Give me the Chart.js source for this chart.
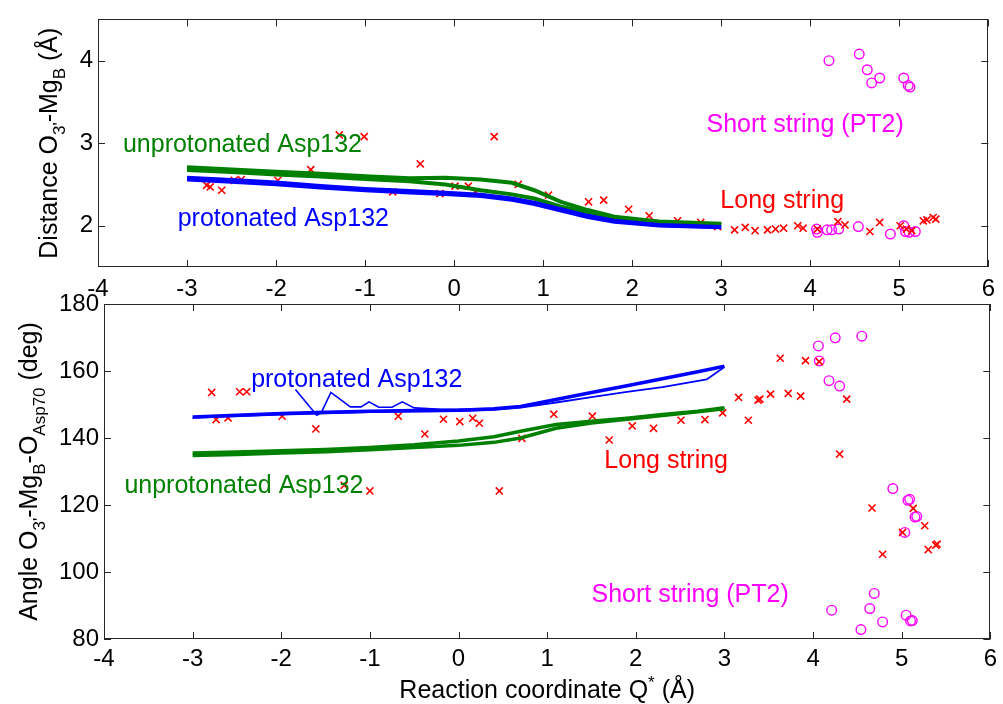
<!DOCTYPE html>
<html>
<head>
<meta charset="utf-8">
<script src="https://cdn.jsdelivr.net/npm/chart.js@4.4.1/dist/chart.umd.min.js"></script>
<style>
body { margin: 0; background: #fff; width: 1003px; height: 704px; position: relative; overflow: hidden; }
canvas { position: absolute; left: 0; }
#topChart { top: 0; }
#bottomChart { top: 280px; }
</style>
</head>
<body>
<canvas id="topChart" width="1003" height="300"></canvas>
<canvas id="bottomChart" width="1003" height="424"></canvas>
<script>
var FONT = '"Liberation Sans", Arial, Helvetica, sans-serif';
var GREEN = '#008000', BLUE = '#0000ff', RED = '#ff0000', MAGENTA = '#ff00ff';

// ---- top panel: distance O3'-MgB ----
var topCurveQ = [-3, -2.5, -2, -1.5, -1, -0.5, -0.1, 0.3, 0.65, 0.9, 1.2, 1.5, 1.8, 2.3, 3];
var topUnprotA = [2.71, 2.68, 2.655, 2.63, 2.60, 2.575, 2.58, 2.56, 2.52, 2.43, 2.29, 2.19, 2.11, 2.05, 2.025];
var topUnprotB = [2.675, 2.65, 2.62, 2.595, 2.565, 2.54, 2.50, 2.43, 2.38, 2.33, 2.23, 2.16, 2.09, 2.035, 2.015];
var topProtA = [2.58, 2.555, 2.525, 2.48, 2.445, 2.42, 2.40, 2.375, 2.33, 2.28, 2.20, 2.12, 2.06, 2.01, 1.985];
var topProtB = [2.55, 2.525, 2.495, 2.455, 2.42, 2.395, 2.375, 2.35, 2.305, 2.255, 2.175, 2.095, 2.04, 1.995, 1.972];

var topLongQ = [-2.78, -2.74, -2.61, -2.47, -2.39, -1.98, -1.61, -1.29, -1.01, -0.69, -0.38, -0.16, 0.01, 0.16, 0.24, 0.45, 0.72, 1.06, 1.51, 1.68, 1.96, 2.19, 2.51, 2.77, 2.96, 3.15, 3.27, 3.38, 3.52, 3.61, 3.70, 3.86, 3.92, 4.08, 4.31, 4.39, 4.67, 4.78, 5.01, 5.08, 5.14, 5.27, 5.31, 5.38, 5.41];
var topLongD = [2.49, 2.47, 2.43, 2.55, 2.56, 2.55, 2.68, 3.10, 3.08, 2.41, 2.75, 2.39, 2.48, 2.48, 2.41, 3.08, 2.50, 2.37, 2.29, 2.31, 2.20, 2.12, 2.06, 2.04, 1.99, 1.95, 1.98, 1.94, 1.95, 1.96, 1.97, 2.0, 1.97, 1.96, 2.05, 2.01, 1.93, 2.04, 2.0, 1.96, 1.94, 2.06, 2.07, 2.10, 2.08];

var topShortQ = [4.21, 4.55, 4.64, 4.69, 4.78, 5.05, 5.10, 5.12, 4.08, 4.07, 4.19, 4.24, 4.32, 4.54, 4.90, 5.05, 5.07, 5.11, 5.18];
var topShortD = [4.0, 4.08, 3.89, 3.73, 3.79, 3.79, 3.70, 3.68, 1.92, 1.96, 1.95, 1.95, 1.96, 1.99, 1.90, 2.0, 1.93, 1.92, 1.93];

// ---- bottom panel: angle O3'-MgB-OAsp70 ----
var botCurveQ = [-3, -2.5, -2, -1.5, -1, -0.5, 0, 0.4, 0.7, 1.1, 1.5, 1.9, 2.3, 2.7, 3];
var botUnprotA = [135.5, 135.8, 136.2, 136.6, 137.2, 138.0, 139.1, 140.4, 142.0, 144.0, 145.0, 145.9, 147.0, 148.0, 149.0];
var botUnprotB = [134.8, 135.1, 135.5, 135.9, 136.5, 137.2, 137.8, 138.7, 140.0, 142.9, 144.5, 145.6, 146.7, 147.8, 148.7];
var botProtA = [146.3, 146.8, 147.3, 147.7, 148.0, 148.2, 148.3, 148.7, 149.4, 151.5, 153.6, 155.6, 157.7, 159.8, 161.4];
var botProtThinQ = [-3, -2, -1, 0, 0.4, 0.7, 1.1, 1.5, 1.9, 2.3, 2.8, 3];
var botProtThin = [146.0, 147.0, 147.7, 148.0, 148.4, 149.1, 150.6, 152.2, 153.8, 155.2, 157.5, 161.2];
var botProtZigQ = [-1.84, -1.6, -1.55, -1.44, -1.22, -1.1, -1.01, -0.9, -0.75, -0.635, -0.5, -0.2, 0.2];
var botProtZig = [154.5, 146.8, 147.5, 153.6, 149.3, 149.3, 150.8, 149.2, 149.2, 150.8, 149.0, 148.6, 148.6];

var botLongQ = [-2.785, -2.735, -2.60, -2.47, -2.39, -1.99, -1.61, -1.29, -1.0, -0.68, -0.38, -0.17, 0.014, 0.16, 0.235, 0.46, 0.715, 1.075, 1.51, 1.70, 1.96, 2.2, 2.51, 2.78, 2.98, 3.16, 3.27, 3.38, 3.40, 3.52, 3.63, 3.72, 3.86, 3.915, 4.07, 4.30, 4.38, 4.665, 4.785, 5.01, 5.13, 5.26, 5.30, 5.385, 5.40];
var botLongA = [153.6, 145.5, 146.0, 153.8, 153.8, 146.5, 142.7, 125.9, 124.2, 146.5, 141.2, 145.6, 144.9, 145.9, 144.4, 124.2, 139.9, 147.1, 146.5, 139.4, 143.6, 142.9, 145.3, 145.5, 147.5, 152.1, 145.3, 151.3, 151.6, 153.1, 163.8, 153.3, 152.5, 163.1, 162.8, 135.2, 151.6, 119.1, 105.3, 111.8, 119.0, 113.8, 106.7, 108.0, 108.3];

var botShortQ = [4.06, 4.07, 4.25, 4.55, 4.18, 4.30, 4.90, 5.07, 5.09, 5.15, 5.17, 5.035, 4.69, 4.21, 4.64, 4.785, 4.54, 5.05, 5.10, 5.12];
var botShortA = [167.5, 163.0, 169.9, 170.4, 157.1, 155.5, 124.9, 121.4, 121.7, 116.4, 116.6, 111.8, 93.6, 88.6, 89.1, 85.1, 82.8, 87.1, 85.4, 85.5];

var xTicks = [-4, -3, -2, -1, 0, 1, 2, 3, 4, 5, 6];
var topYTicks = [2, 3, 4];
var botYTicks = [80, 100, 120, 140, 160, 180];

function pts(xs, ys) {
  return xs.map(function(x, i) { return {x: x, y: ys[i]}; });
}

function lineSet(xs, ys, color, w) {
  return {data: pts(xs, ys), showLine: true, borderColor: color, borderWidth: w,
          pointRadius: 0, fill: false, tension: 0};
}

function crossSet(xs, ys) {
  return {data: pts(xs, ys), showLine: false, pointStyle: 'crossRot', pointRadius: 5,
          borderColor: RED, borderWidth: 1.6};
}

function circleSet(xs, ys) {
  return {data: pts(xs, ys), showLine: false, pointStyle: 'circle', pointRadius: 4.8,
          borderColor: MAGENTA, backgroundColor: 'rgba(0,0,0,0)', borderWidth: 1.4};
}

// text pieces: leading "_" = subscript, "^" = superscript
function drawRich(ctx, parts, cx, cy, size, rotate) {
  ctx.save();
  ctx.translate(cx, cy);
  if (rotate) ctx.rotate(-Math.PI / 2);
  var items = parts.map(function(p) {
    var kind = p[0] == '_' || p[0] == '^' ? p[0] : '';
    var t = kind ? p.slice(1) : p;
    var s = kind ? size * 0.68 : size;
    ctx.font = s + 'px ' + FONT;
    return {t: t, kind: kind, s: s, w: ctx.measureText(t).width};
  });
  var total = items.reduce(function(a, b) { return a + b.w; }, 0);
  var x = -total / 2;
  ctx.fillStyle = '#000';
  ctx.textAlign = 'left';
  ctx.textBaseline = 'alphabetic';
  items.forEach(function(it) {
    ctx.font = it.s + 'px ' + FONT;
    var dy = it.kind == '_' ? size * 0.3 : (it.kind == '^' ? -size * 0.42 : 0);
    ctx.fillText(it.t, x, dy);
    x += it.w;
  });
  ctx.restore();
}

var framePlugin = {
  id: 'frame',
  afterDraw: function(chart, args, o) {
    var ctx = chart.ctx, a = chart.chartArea;
    var xs = chart.scales.x, ys = chart.scales.y;
    ctx.save();
    ctx.strokeStyle = '#262626';
    ctx.lineWidth = 1;
    ctx.strokeRect(Math.round(a.left) + 0.5, Math.round(a.top) + 0.5,
                   Math.round(a.right - a.left) - 1, Math.round(a.bottom - a.top) - 1);
    ctx.beginPath();
    var len = 7;
    xs.ticks.forEach(function(t) {
      var px = Math.round(xs.getPixelForValue(t.value)) + 0.5;
      ctx.moveTo(px, a.bottom); ctx.lineTo(px, a.bottom - len);
      ctx.moveTo(px, a.top); ctx.lineTo(px, a.top + len);
    });
    ys.ticks.forEach(function(t) {
      var py = Math.round(ys.getPixelForValue(t.value)) + 0.5;
      ctx.moveTo(a.left, py); ctx.lineTo(a.left + len, py);
      ctx.moveTo(a.right, py); ctx.lineTo(a.right - len, py);
    });
    ctx.stroke();

    // notes in data coordinates
    ctx.font = '25px ' + FONT;
    ctx.textAlign = 'left';
    ctx.textBaseline = 'alphabetic';
    o.notes.forEach(function(n) {
      ctx.fillStyle = n.color;
      ctx.fillText(n.text, xs.getPixelForValue(n.x), ys.getPixelForValue(n.y));
    });
    ctx.restore();

    drawRich(ctx, o.yTitle, o.yTitleX, (a.top + a.bottom) / 2, 25, true);
    if (o.xTitle) drawRich(ctx, o.xTitle, (a.left + a.right) / 2, o.xTitleY, 25, false);
  }
};

function makeChart(id, datasets, yMin, yMax, yTicks, yWidth, xHeight, xPad, pad, frame) {
  return new Chart(document.getElementById(id), {
    type: 'scatter',
    data: {datasets: datasets},
    plugins: [framePlugin],
    options: {
      responsive: false,
      animation: false,
      layout: {padding: pad},
      plugins: {legend: {display: false}, tooltip: {enabled: false}, frame: frame},
      scales: {
        x: {
          type: 'linear', min: -4, max: 6,
          afterBuildTicks: function(s) { s.ticks = xTicks.map(function(v) { return {value: v}; }); },
          afterFit: function(s) { s.height = xHeight; },
          ticks: {font: {size: 24, family: FONT}, color: '#000', padding: xPad, autoSkip: false, maxRotation: 0},
          grid: {display: false, drawTicks: false},
          border: {display: false}
        },
        y: {
          type: 'linear', min: yMin, max: yMax,
          afterBuildTicks: function(s) { s.ticks = yTicks.map(function(v) { return {value: v}; }); },
          afterFit: function(s) { s.width = yWidth; },
          ticks: {font: {size: 24, family: FONT}, color: '#000', padding: 5},
          grid: {display: false, drawTicks: false},
          border: {display: false}
        }
      }
    }
  });
}

makeChart('topChart', [
  lineSet(topCurveQ, topProtB, BLUE, 2.5),
  lineSet(topCurveQ, topProtA, BLUE, 4),
  lineSet(topCurveQ, topUnprotB, GREEN, 4),
  lineSet(topCurveQ, topUnprotA, GREEN, 4),
  crossSet(topLongQ, topLongD),
  circleSet(topShortQ, topShortD)
], 1.5, 4.5, topYTicks, 98, 33, 8, {left: 0, right: 11, top: 13, bottom: 0}, {
  yTitle: ['Distance O', "_3'", '-Mg', '_B', ' (Å)'],
  yTitleX: 57,
  notes: [
    {text: 'unprotonated Asp132', x: -3.72, y: 2.89, color: GREEN},
    {text: 'protonated Asp132', x: -3.105, y: 2.0, color: BLUE},
    {text: 'Short string (PT2)', x: 2.835, y: 3.13, color: MAGENTA},
    {text: 'Long string', x: 2.99, y: 2.22, color: RED}
  ]
});

makeChart('bottomChart', [
  lineSet(botProtThinQ, botProtThin, BLUE, 1.8),
  lineSet(botProtZigQ, botProtZig, BLUE, 1.6),
  lineSet(botCurveQ, botProtA, BLUE, 3.5),
  lineSet(botCurveQ, botUnprotB, GREEN, 3.5),
  lineSet(botCurveQ, botUnprotA, GREEN, 3.5),
  crossSet(botLongQ, botLongA),
  circleSet(botShortQ, botShortA)
], 80, 180, botYTicks, 104, 65, 6, {left: 0, right: 10, top: 24, bottom: 0}, {
  yTitle: ['Angle O', "_3'", '-Mg', '_B', '-O', '_Asp70', ' (deg)'],
  yTitleX: 37,
  xTitle: ['Reaction coordinate Q', '^*', ' (Å)'],
  xTitleY: 418,
  notes: [
    {text: 'protonated Asp132', x: -2.34, y: 155.3, color: BLUE},
    {text: 'unprotonated Asp132', x: -3.77, y: 123.5, color: GREEN},
    {text: 'Long string', x: 1.645, y: 131, color: RED},
    {text: 'Short string (PT2)', x: 1.50, y: 91.1, color: MAGENTA}
  ]
});
</script>
</body>
</html>
